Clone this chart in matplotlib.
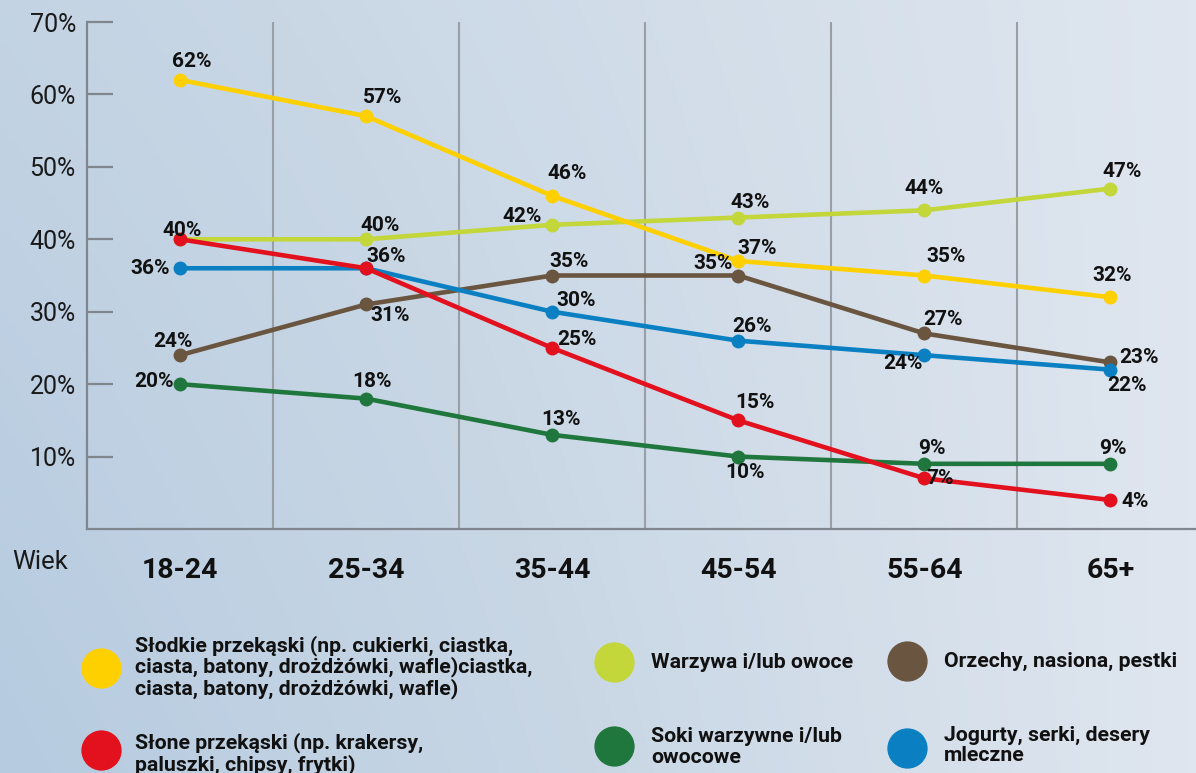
import numpy as np
import matplotlib.pyplot as plt
from matplotlib.colors import LinearSegmentedColormap

plt.rcParams['font.family'] = ['Roboto', 'DejaVu Sans']

# data
age_groups = ['18-24', '25-34', '35-44', '45-54', '55-64', '65+']
yticks = [10, 20, 30, 40, 50, 60, 70]

sweet = [62, 57, 46, 37, 35, 32]
salty = [40, 36, 25, 15, 7, 4]
vegetables = [40, 40, 42, 43, 44, 47]
juices = [20, 18, 13, 10, 9, 9]
nuts = [24, 31, 35, 35, 27, 23]
yogurt = [36, 36, 30, 26, 24, 22]

names = {
    'sweet': 'Słodkie przekąski (np. cukierki, ciastka,\nciasta, batony, drożdżówki, wafle)ciastka,\nciasta, batony, drożdżówki, wafle)',
    'salty': 'Słone przekąski (np. krakersy,\npaluszki, chipsy, frytki)',
    'vegetables': 'Warzywa i/lub owoce',
    'juices': 'Soki warzywne i/lub\nowocowe',
    'nuts': 'Orzechy, nasiona, pestki',
    'yogurt': 'Jogurty, serki, desery\nmleczne',
}
series = {'sweet': sweet, 'salty': salty, 'vegetables': vegetables,
          'juices': juices, 'nuts': nuts, 'yogurt': yogurt}
colors = {'sweet': '#FFD000', 'salty': '#E3101E', 'vegetables': '#C3D63A',
          'juices': '#20773D', 'nuts': '#6A5640', 'yogurt': '#0A80C2'}

# label offsets in pixels (dx, dy), None = no label
offsets = {
    'sweet': [(12, 18), (17, 19), (15, 22), (19, 13), (22, 19), (2, 22)],
    'vegetables': [(2, 9), (14, 14), (-30, 8), (12, 15), (0, 22), (12, 17)],
    'nuts': [(-7, 14), (24, -11), (17, 14), (-25, 12), (19, 14), (29, 5)],
    'yogurt': [(-30, 0), (20, 12), (24, 11), (14, 14), (-21, -8), (17, -16)],
    'salty': [None, None, (25, 8), (17, 18), (16, 0), (25, -1)],
    'juices': [(-26, 3), (6, 17), (9, 15), (7, -16), (8, 15), (2, 15)],
}
draw_order = ['juices', 'vegetables', 'nuts', 'yogurt', 'salty', 'sweet']

W, H = 1196, 773
fig = plt.figure(figsize=(W / 100, H / 100), dpi=100)

# background: soft blue-grey wash, bluer towards bottom-left
bg = fig.add_axes([0, 0, 1, 1], zorder=-5)
GX, GY = np.meshgrid(np.linspace(0, 1, 300), np.linspace(0, 1, 200))
grad = np.clip(0.35 + 0.65 * GX - 0.35 * GY * (1 - GX), 0, 1)
cmap = LinearSegmentedColormap.from_list('bg', ['#B6CBE0', '#C9D7E5', '#DFE6EF'])
bg.imshow(grad, cmap=cmap, aspect='auto', extent=[0, 1, 0, 1], origin='upper')
bg.axis('off')

ax = fig.add_axes([87 / W, 1 - 529 / H, 1 - 87 / W, (529 - 22) / H])
ax.set_facecolor('none')
x = np.arange(len(age_groups))

for key in draw_order:
    ax.plot(x, series[key], color=colors[key], lw=3.3, marker='o', ms=9,
            solid_capstyle='round', zorder=3)
    for i, v in enumerate(series[key]):
        off = offsets[key][i]
        if off is None:
            continue
        ax.annotate(f'{v}%', (i, v), xytext=(off[0] * 0.72, off[1] * 0.72),
                    textcoords='offset points', ha='center', va='center',
                    fontsize=15, fontweight='bold', color='#111111', zorder=5)

ax.set_xlim(-0.5, 5.46)
ax.set_ylim(0, 70)
for gxv in np.arange(0.5, 5, 1):
    ax.axvline(gxv, color='#9A9EA5', lw=1.5, zorder=1)

ax.set_yticks(yticks)
ax.set_yticklabels([f'{t}%' for t in yticks], fontsize=18, color='#1a1a1a')
ax.tick_params(axis='y', direction='in', length=19, width=1.6, color='#80868E', pad=8)
ax.set_xticks(x)
ax.set_xticklabels(age_groups, fontsize=20.5, fontweight='bold', color='#111111')
ax.tick_params(axis='x', length=0, pad=20)
for s in ['top', 'right']:
    ax.spines[s].set_visible(False)
for s in ['left', 'bottom']:
    ax.spines[s].set_color('#80868E')
    ax.spines[s].set_linewidth(1.6)

fig.text(12 / W, 1 - 562 / H, 'Wiek', fontsize=18.5, ha='left', va='center', color='#1a1a1a')

# legend
leg = fig.add_axes([0, 0, 1, 1], zorder=2)
leg.set_xlim(0, W)
leg.set_ylim(H, 0)
leg.axis('off')
legend_pos = {
    'sweet': (101, 668, 135, 667),
    'salty': (101, 750, 135, 754),
    'vegetables': (614, 662, 651, 662),
    'juices': (614, 746, 651, 747),
    'nuts': (907, 661, 944, 661),
    'yogurt': (907, 748, 944, 745),
}
for key, (cx, cy, tx, ty) in legend_pos.items():
    leg.plot(cx, cy, 'o', ms=28, color=colors[key])
    leg.text(tx, ty, names[key], fontsize=15.3, fontweight='bold', ha='left',
             va='center', linespacing=1.07, color='#111111')

fig.savefig('out.png', dpi=100)
